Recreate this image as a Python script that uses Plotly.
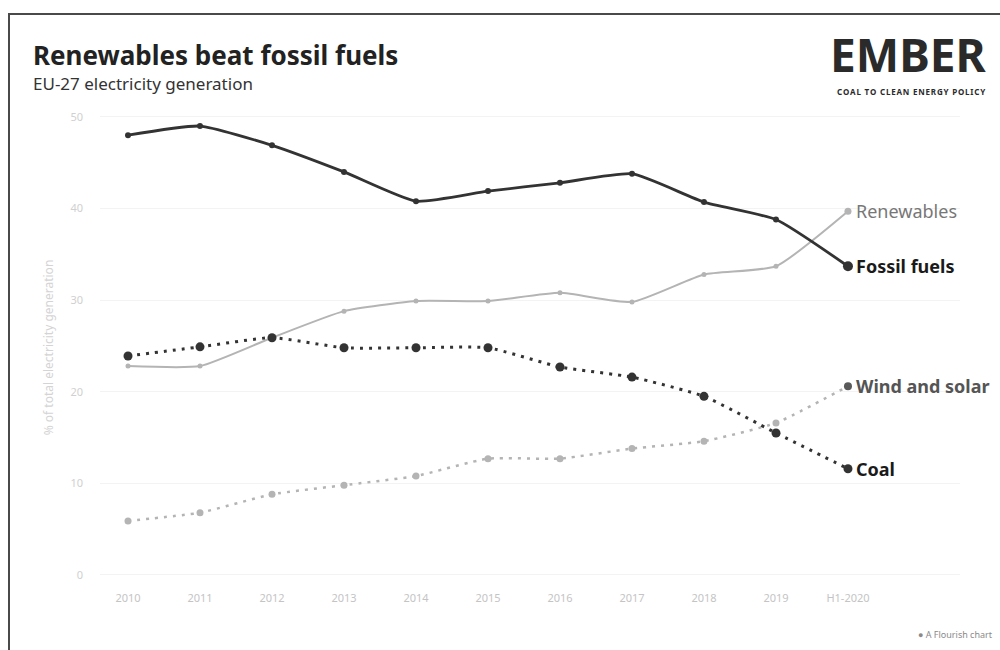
import plotly.graph_objects as go

# EU-27 electricity generation shares (% of total)
periods = ["2010", "2011", "2012", "2013", "2014", "2015", "2016", "2017", "2018", "2019", "H1-2020"]
fossil_fuels = [48.0, 49.0, 46.9, 44.0, 40.8, 41.9, 42.8, 43.8, 40.7, 38.8, 33.7]
renewables = [22.8, 22.8, 25.9, 28.8, 29.9, 29.9, 30.8, 29.8, 32.8, 33.7, 39.7]
coal = [23.9, 24.9, 25.9, 24.8, 24.8, 24.8, 22.7, 21.6, 19.5, 15.5, 11.6]
wind_solar = [5.9, 6.8, 8.8, 9.8, 10.8, 12.7, 12.7, 13.8, 14.6, 16.6, 20.6]
y_ticks = [0, 10, 20, 30, 40, 50]

FONT = "Noto Sans"
DARK = "#333333"
LIGHT = "#b4b4b4"
MID = "#5a5a5a"

x = list(range(len(periods)))
last = len(periods) - 1

L, R, T, B = 100, 40, 105, 60
W, H = 1000, 650
PW, PH = W - L - R, H - T - B


def px_to_paper_x(px):
    return (px - L) / PW


def px_to_paper_y(py):
    return (H - B - py) / PH


fig = go.Figure()


def add_series(values, color, dash, width, msize, last_color, last_size):
    sizes = [msize] * len(values)
    sizes[-1] = last_size
    colors = [color] * len(values)
    colors[-1] = last_color
    fig.add_trace(go.Scatter(
        x=x, y=values, mode="lines+markers",
        line=dict(color=color, width=width, dash=dash, shape="spline", smoothing=0.5),
        marker=dict(size=sizes, color=colors, opacity=1, line=dict(width=0)),
        hoverinfo="skip", showlegend=False,
    ))


add_series(wind_solar, LIGHT, "3px,6px", 2.5, 7, MID, 8)
add_series(renewables, LIGHT, "solid", 2, 5, LIGHT, 7)
add_series(coal, DARK, "3px,6px", 3, 9, DARK, 9)
add_series(fossil_fuels, DARK, "solid", 2.8, 6, DARK, 10)

# end-of-line labels
end_labels = [
    ("Renewables", renewables[last], "#777777", False),
    ("Fossil fuels", fossil_fuels[last], "#1a1a1a", True),
    ("Wind and solar", wind_solar[last], "#555555", True),
    ("Coal", coal[last], "#1a1a1a", True),
]
for text, yv, col, bold in end_labels:
    fig.add_annotation(
        x=last, y=yv, xref="x", yref="y", xanchor="left", yanchor="middle",
        xshift=6, showarrow=False,
        text=f"<b>{text}</b>" if bold else text,
        font=dict(family=FONT, size=18, color=col),
    )

# title block
fig.add_annotation(
    x=px_to_paper_x(31), y=px_to_paper_y(55), xref="paper", yref="paper",
    xanchor="left", yanchor="middle", showarrow=False,
    text="<b>Renewables beat fossil fuels</b>",
    font=dict(family=FONT, size=26, color="#222222"),
)
fig.add_annotation(
    x=px_to_paper_x(31), y=px_to_paper_y(84), xref="paper", yref="paper",
    xanchor="left", yanchor="middle", showarrow=False,
    text="EU-27 electricity generation",
    font=dict(family=FONT, size=17, color="#333333"),
)

# logo with letter-spaced tagline
fig.add_annotation(
    x=px_to_paper_x(988), y=px_to_paper_y(54), xref="paper", yref="paper",
    xanchor="right", yanchor="middle", showarrow=False,
    text="<b>EMBER</b>",
    font=dict(family=FONT, size=46, color="#2a2a2a"),
)
tagline = "\u200a".join("COAL TO CLEAN ENERGY POLICY")
fig.add_annotation(
    x=px_to_paper_x(988), y=px_to_paper_y(91), xref="paper", yref="paper",
    xanchor="right", yanchor="middle", showarrow=False,
    text=f"<b>{tagline}</b>",
    font=dict(family=FONT, size=8, color="#2a2a2a"),
)

# footer credit
fig.add_annotation(
    x=px_to_paper_x(995), y=px_to_paper_y(634), xref="paper", yref="paper",
    xanchor="right", yanchor="middle", showarrow=False,
    text="● A Flourish chart",
    font=dict(family=FONT, size=9, color="#8a8a8a"),
)

# outer frame
fig.add_shape(
    type="rect", xref="paper", yref="paper",
    x0=px_to_paper_x(9), x1=px_to_paper_x(1010),
    y0=px_to_paper_y(660), y1=px_to_paper_y(14),
    line=dict(color="#4a4a4a", width=2), fillcolor="rgba(0,0,0,0)", layer="above",
)

fig.update_layout(
    width=W, height=H,
    margin=dict(l=L, r=R, t=T, b=B),
    paper_bgcolor="white", plot_bgcolor="white",
    font=dict(family=FONT),
    xaxis=dict(
        range=[-0.389, 11.556], tickvals=x, ticktext=periods,
        showgrid=False, zeroline=False, showline=False, ticks="",
        tickfont=dict(size=11, color="#c4c4c4"),
    ),
    yaxis=dict(
        range=[-1.64, 51.3], tickvals=y_ticks,
        showgrid=True, gridcolor="#f3f3f3", gridwidth=1,
        zeroline=False, showline=False, ticks="",
        ticklabelstandoff=16,
        tickfont=dict(size=11, color="#d0d0d0"),
        title=dict(text="% of total electricity generation",
                   font=dict(size=12, color="#d4d4d4"), standoff=14),
    ),
)

fig.write_html("out.html")
